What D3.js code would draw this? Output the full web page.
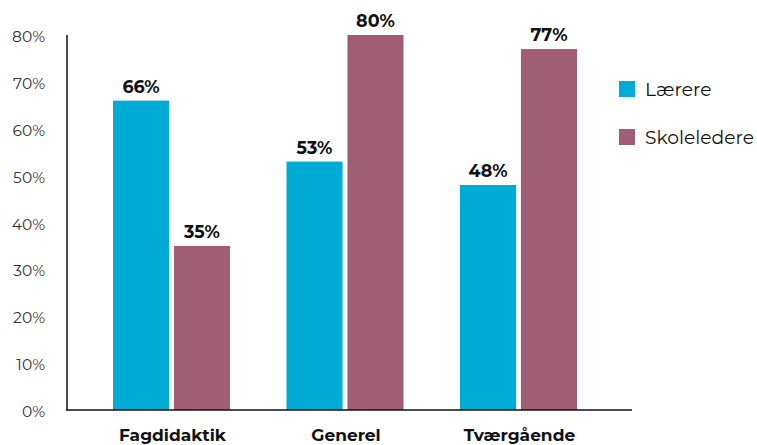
<!DOCTYPE html>
<html><head><meta charset="utf-8">
<script src="https://cdn.jsdelivr.net/npm/d3@7"></script>
<style>body{margin:0;background:#fff}svg{display:block}</style>
</head><body>
<svg id="c" width="757" height="445"></svg>
<script>
const categories = ["Fagdidaktik", "Generel", "Tværgående"];
const seriesNames = ["Lærere", "Skoleledere"];
const laerere = [66, 53, 48];
const skoleledere = [35, 80, 77];
const yTicks = [0, 10, 20, 30, 40, 50, 60, 70, 80];
const colors = ["#00acd6", "#a05e75"];

const svg = d3.select("#c");
const font = "Montserrat, 'Open Sans', sans-serif";
const y = d3.scaleLinear().domain([0, 80]).range([410, 35]);
const x = d3.scaleBand().domain(categories).range([84.75, 605.25]).paddingInner(0).paddingOuter(0);
const xs = d3.scaleBand().domain(seriesNames).range([0, 117]).paddingInner(0.08);
const values = [laerere, skoleledere];

// y tick labels
svg.append("g").selectAll("text").data(yTicks).join("text")
  .attr("x", 45).attr("y", d => y(d) + 7)
  .attr("text-anchor", "end").attr("font-family", font).attr("font-size", 15.5).attr("fill", "#333")
  .text(d => d + "%");

// bars
const g = svg.append("g");
categories.forEach((c, i) => {
  const cx = x(c) + x.bandwidth() / 2 - 58.5;
  seriesNames.forEach((s, j) => {
    const v = values[j][i];
    g.append("rect").attr("x", cx + xs(s)).attr("y", y(v)).attr("width", xs.bandwidth()).attr("height", y(0) - y(v)).attr("fill", colors[j]);
    g.append("text").attr("x", cx + xs(s) + xs.bandwidth() / 2).attr("y", y(v) - 8)
      .attr("text-anchor", "middle").attr("font-family", font).attr("font-weight", "bold").attr("font-size", 17.5).attr("fill", "#111")
      .text(v + "%");
  });
  svg.append("text").attr("x", x(c) + x.bandwidth() / 2 + 1).attr("y", 441)
    .attr("text-anchor", "middle").attr("font-family", font).attr("font-weight", "bold").attr("font-size", 17).attr("fill", "#111")
    .text(c);
});

// axes lines
svg.append("line").attr("x1", 67).attr("x2", 67).attr("y1", 35).attr("y2", 410.5).attr("stroke", "#111").attr("stroke-width", 1.5);
svg.append("line").attr("x1", 66.25).attr("x2", 632).attr("y1", 410).attr("y2", 410).attr("stroke", "#111").attr("stroke-width", 1.5);

// legend
const leg = svg.append("g");
seriesNames.forEach((s, j) => {
  leg.append("rect").attr("x", 619).attr("y", 81 + j * 48).attr("width", 16).attr("height", 16).attr("fill", colors[j]);
  leg.append("text").attr("x", 645).attr("y", 89 + j * 48 + 7).attr("font-family", font).attr("font-size", 18.7).attr("fill", "#111").text(s);
});
</script>
</body></html>
